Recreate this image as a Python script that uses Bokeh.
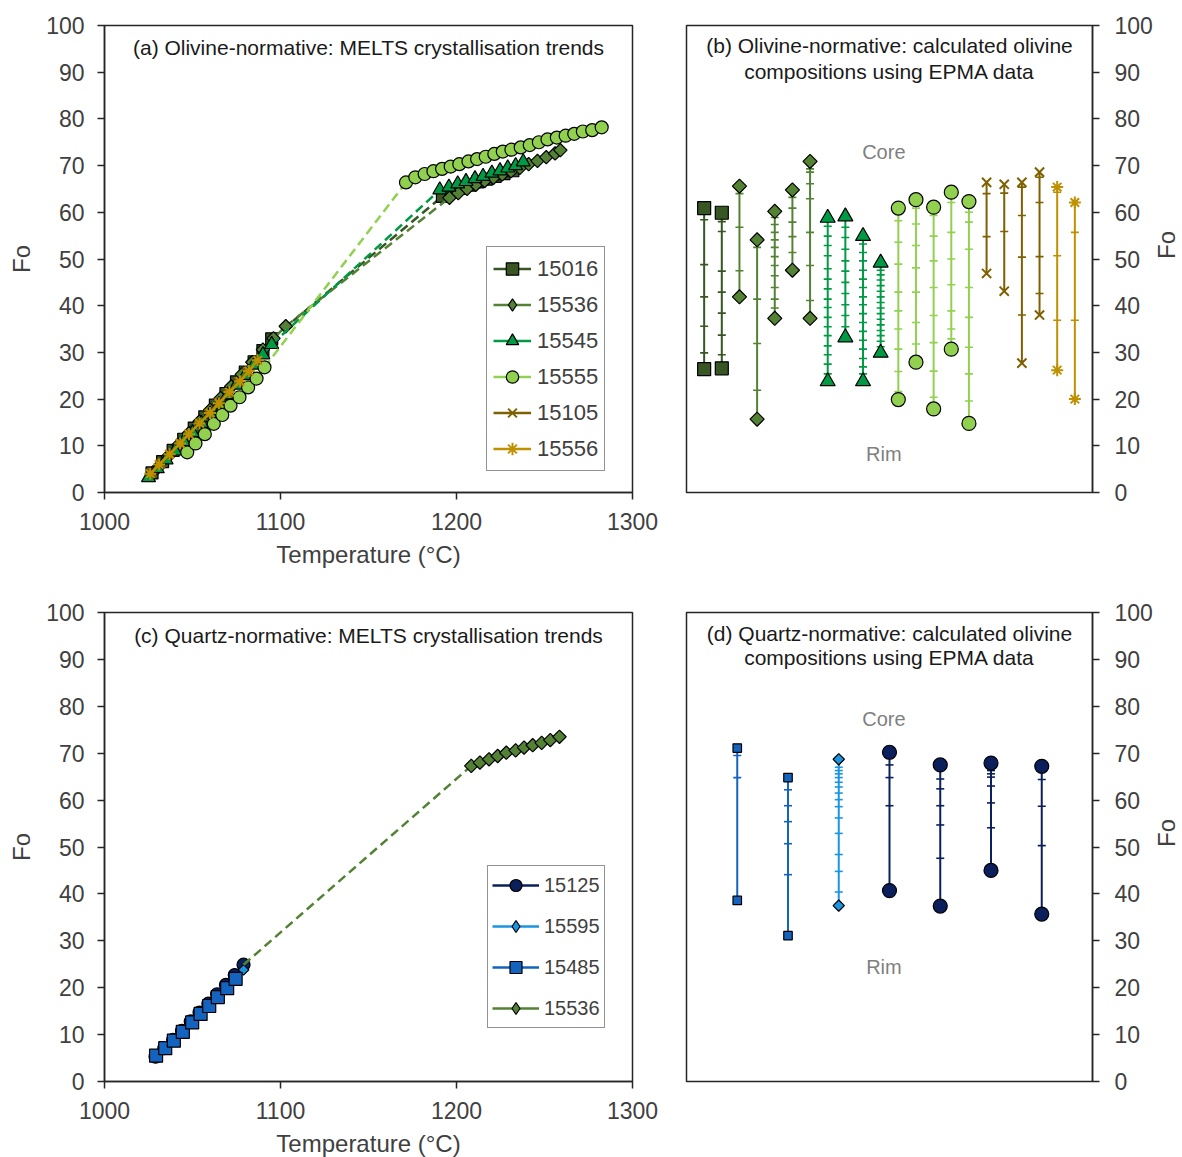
import math
from bokeh.plotting import figure
from bokeh.models import Range1d, FixedTicker, Label, Legend, LegendItem
from bokeh.layouts import column, row
from bokeh.embed import file_html
from bokeh.resources import INLINE

FONT = "Liberation Sans"
AXC = "#262626"
TXT = "#404040"

# ---------------- data: panel (a) olivine-normative MELTS trends ----------------
a15016_lo_T = [1027, 1033, 1039, 1045, 1051, 1057, 1063, 1069, 1075, 1080, 1085, 1090, 1095]
a15016_lo_Fo = [4.2, 6.6, 9.0, 11.4, 13.8, 16.2, 18.7, 21.2, 23.7, 25.8, 28.0, 30.4, 32.9]
a15016_hi_T = [1192, 1197, 1202, 1207, 1212, 1217, 1222, 1227, 1232]
a15016_hi_Fo = [63.4, 64.3, 65.1, 65.8, 66.5, 67.1, 67.7, 68.3, 68.9]

a15536_lo_T = [1030, 1036, 1042, 1048, 1054, 1060, 1066, 1072, 1078, 1084, 1090, 1096, 1103]
a15536_lo_Fo = [5.2, 7.7, 10.2, 12.7, 15.2, 17.7, 20.2, 22.7, 25.3, 27.9, 30.6, 33.0, 35.6]
a15536_hi_T = [1196, 1201, 1206, 1211, 1216, 1221, 1226, 1231, 1236, 1241, 1246, 1251, 1256, 1259]
a15536_hi_Fo = [63.1, 64.1, 65.0, 65.9, 66.7, 67.4, 68.1, 68.8, 69.5, 70.3, 71.0, 71.8, 72.6, 73.3]

a15545_lo_T = [1025, 1030, 1035, 1040, 1045, 1050, 1055, 1060, 1065, 1070, 1075, 1080, 1085, 1090, 1095]
a15545_lo_Fo = [3.2, 5.1, 7.0, 8.9, 10.9, 12.8, 14.8, 16.8, 18.8, 20.9, 23.0, 25.1, 27.3, 29.5, 31.7]
a15545_hi_T = [1190.5, 1195.7, 1200.7, 1205.4, 1210.5, 1215.1, 1220.1, 1224.7, 1229.1, 1233.6, 1237.9]
a15545_hi_Fo = [64.8, 65.4, 66.1, 66.6, 67.2, 67.7, 68.4, 68.9, 69.5, 70.0, 70.8]

a15555_lo_T = [1047.0, 1051.7, 1057.0, 1062.1, 1066.9, 1071.6, 1076.7, 1081.6, 1086.4, 1090.9]
a15555_lo_Fo = [8.6, 10.5, 12.5, 14.7, 16.6, 18.6, 20.4, 22.5, 24.4, 26.8]
a15555_hi_T = [1171.3, 1176.6, 1181.9, 1186.9, 1191.8, 1196.7, 1201.6, 1206.8, 1211.7, 1216.6, 1221.5, 1226.3,
               1231.2, 1236.5, 1241.6, 1246.8, 1251.7, 1257.0, 1262.0, 1266.9, 1271.8, 1277.1, 1282.5]
a15555_hi_Fo = [66.4, 67.5, 68.2, 68.8, 69.3, 69.8, 70.3, 70.9, 71.4, 71.9, 72.5, 73.0,
                73.4, 73.9, 74.4, 75.0, 75.6, 76.0, 76.4, 76.8, 77.3, 77.6, 78.2]

a15105_T = [1027, 1032, 1037, 1043, 1048, 1054, 1059, 1065, 1070, 1076, 1081]
a15105_Fo = [4.3, 6.2, 8.2, 10.6, 12.6, 14.9, 16.9, 19.3, 21.3, 23.7, 25.8]
a15556_T = [1026, 1031, 1037, 1043, 1048, 1054, 1060, 1065, 1071, 1077, 1082, 1087]
a15556_Fo = [4.0, 6.0, 8.2, 10.5, 12.5, 14.8, 17.0, 19.1, 21.5, 23.8, 26.0, 28.3]

# ---------------- data: panel (c) quartz-normative MELTS trends ----------------
c15125_T = [1029, 1034, 1039, 1044, 1049, 1054, 1059, 1064, 1069, 1074, 1079]
c15125_Fo = [5.3, 7.1, 8.9, 10.8, 12.8, 14.7, 16.6, 18.6, 20.6, 22.7, 24.9]
c15595_T = [1030, 1035, 1040, 1045, 1050, 1055, 1060, 1065, 1070, 1075, 1079]
c15595_Fo = [5.6, 7.3, 9.0, 10.9, 12.8, 14.6, 16.4, 18.3, 20.2, 22.1, 23.8]
c15485_T = [1029.3, 1034.5, 1039.4, 1044.5, 1049.8, 1054.6, 1059.5, 1064.4, 1069.7, 1074.5]
c15485_Fo = [5.5, 7.1, 8.7, 10.6, 12.6, 14.4, 16.1, 18.0, 19.9, 21.9]
c15536_lo_T = [1079]
c15536_lo_Fo = [24.9]
c15536_hi_T = [1208.4, 1213.3, 1218.5, 1223.4, 1228.3, 1233.6, 1238.4, 1243.3, 1248.4, 1253.3, 1258.5]
c15536_hi_Fo = [67.3, 68.0, 68.7, 69.4, 70.1, 70.6, 71.2, 71.7, 72.2, 72.8, 73.5]

# ---------------- data: panel (b) olivine-normative EPMA profiles ----------------
b_series = ["15016", "15536", "15545", "15555", "15105", "15556"]
b_counts = [2, 5, 4, 5, 4, 2]
b_core = [60.9, 59.9, 65.6, 54.1, 60.2, 64.8, 70.9, 58.8, 59.1, 54.9, 49.2,
          60.9, 62.7, 61.1, 64.3, 62.3, 66.4, 66.0, 66.4, 68.6, 65.4, 62.1]
b_rim = [26.4, 26.6, 41.9, 15.7, 37.3, 47.6, 37.3, 23.8, 33.2, 23.8, 29.9,
         19.9, 27.9, 17.9, 30.7, 14.8, 46.9, 43.1, 27.7, 38.0, 26.2, 20.0]
b_inner = [
    [58.4, 48.8, 41.9, 35.6, 29.9],
    [58.0, 55.9, 47.4, 42.9, 38.4, 33.7, 29.5],
    [64.0, 56.8, 47.5],
    [52.5, 41.4, 31.9, 21.9],
    [58.9, 57.4, 55.7, 54.1, 52.5, 50.5, 48.6, 46.4, 43.9, 41.4, 39.5],
    [63.2, 60.9, 57.9, 54.8, 51.4],
    [69.3, 68.6, 66.1, 62.9, 55.7, 48.6, 41.1],
    [57.0, 54.9, 52.9, 50.7, 47.9, 45.7, 43.6, 41.4, 39.6, 37.5, 35.5, 33.6, 31.4, 29.5, 27.5, 25.4],
    [56.8, 54.6, 52.1, 49.6, 47.4, 45.0, 42.6, 40.2, 37.9, 35.5],
    [53.2, 51.4, 49.6, 47.6, 45.7, 43.9, 41.9, 40.2, 38.3, 36.4, 34.5, 32.6, 30.7, 28.7, 26.9, 25.4],
    [47.6, 46.6, 45.5, 44.3, 43.1, 41.9, 40.7, 39.5, 38.3, 37.1, 35.9, 34.7, 33.6, 32.4, 31.2],
    [58.2, 53.6, 48.9, 42.9, 38.9, 35.0, 30.7, 25.9, 21.6],
    [60.9, 57.5, 52.9, 48.1, 42.9, 36.4, 31.8],
    [59.3, 54.9, 49.6, 43.9, 37.9, 32.1, 26.0, 20.4],
    [62.1, 55.7, 50.0, 44.5, 38.9, 35.0, 32.9],
    [60.0, 57.9, 52.1, 43.9, 37.5, 31.1, 25.4, 19.6],
    [64.0, 54.8],
    [64.1, 55.9],
    [65.4, 59.3, 50.4, 38.0],
    [67.5, 62.1, 50.5, 42.6],
    [64.3, 50.7, 36.9],
    [55.7, 36.9],
]

# ---------------- data: panel (d) quartz-normative EPMA profiles ----------------
d_series = ["15485", "15595", "15125"]
d_counts = [2, 1, 4]
d_core = [71.1, 64.8, 68.7, 70.2, 67.5, 67.9, 67.2]
d_rim = [38.6, 31.1, 37.5, 40.7, 37.4, 45.0, 35.7]
d_inner = [
    [69.5, 64.8],
    [62.2, 58.8, 55.4, 50.7, 44.1],
    [67.0, 66.3, 65.6, 64.8, 63.8, 62.8, 61.5, 60.1, 58.6, 56.2, 52.9, 48.4, 44.8, 40.4],
    [67.5, 64.8, 58.8],
    [64.5, 62.4, 58.8, 54.7, 47.6],
    [66.3, 65.6, 64.9, 63.0, 59.4, 54.1],
    [64.4, 58.7, 50.3],
]

x_ticks = [1000, 1100, 1200, 1300]
y_ticks = [0, 10, 20, 30, 40, 50, 60, 70, 80, 90, 100]

# ---------------- styles ----------------
COL = {
    "15016": "#375623", "15536": "#548235", "15545": "#009A44", "15555": "#92D050",
    "15105": "#7F6000", "15556": "#BF9000",
    "15125": "#0B1F5C", "15595": "#1B95E0", "15485": "#1463BE",
}
MK = {
    "15016": dict(marker="square", size=12, angle=0.0, legend="square"),
    "15536": dict(marker="square", size=9.5, angle=math.pi / 4, legend="diamond"),
    "15545": dict(marker="triangle", size=14, angle=0.0, legend="triangle"),
    "15555": dict(marker="circle", size=13, angle=0.0, legend="circle"),
    "15105": dict(marker="x", size=12, angle=0.0, legend="x"),
    "15556": dict(marker="asterisk", size=12, angle=0.0, legend="asterisk"),
    "15125": dict(marker="circle", size=13, angle=0.0, legend="circle"),
    "15595": dict(marker="square", size=7.5, angle=math.pi / 4, legend="diamond"),
    "15485": dict(marker="square", size=13, angle=0.0, legend="square"),
}
LINE_ONLY = {"15105", "15556"}


def style_kw(name):
    if name in LINE_ONLY:
        return dict(line_color=COL[name], line_width=2)
    return dict(fill_color=COL[name], line_color="black", line_width=1.2)


def marker_kw(name, size=None):
    m = MK[name]
    kw = dict(marker=m["marker"], size=size if size else m["size"], angle=m["angle"])
    kw.update(style_kw(name))
    return kw


def base_fig(xr, yr, fw, fh, bl, br, bt, bb, yside="left", show_x=True):
    p = figure(frame_width=fw, frame_height=fh, x_range=xr, y_range=yr,
               output_backend="svg", toolbar_location=None, y_axis_location=yside,
               min_border_left=bl, min_border_right=br, min_border_top=bt, min_border_bottom=bb)
    p.xgrid.visible = False
    p.ygrid.visible = False
    p.outline_line_color = AXC
    p.outline_line_width = 1.5
    p.background_fill_color = "white"
    p.border_fill_color = "white"
    for ax in p.axis:
        ax.axis_line_color = AXC
        ax.axis_line_width = 1.5
        ax.major_tick_line_color = AXC
        ax.major_tick_line_width = 1.5
        ax.major_tick_out = 7
        ax.major_tick_in = 0
        ax.minor_tick_out = 0
        ax.minor_tick_in = 0
        ax.major_label_text_font = FONT
        ax.major_label_text_font_size = "23px"
        ax.major_label_text_color = TXT
        ax.axis_label_text_font = FONT
        ax.axis_label_text_font_size = "24px"
        ax.axis_label_text_color = TXT
        ax.axis_label_text_font_style = "normal"
    p.yaxis.ticker = FixedTicker(ticks=y_ticks)
    p.yaxis.axis_label = "Fo"
    if yside == "right":
        p.yaxis.major_label_standoff = 15
        p.yaxis.axis_label_standoff = 11
        for ax in p.yaxis:
            try:
                ax.axis_label_orientation = math.pi / 2
            except AttributeError:
                pass
    else:
        p.yaxis.major_label_standoff = 13
        p.yaxis.axis_label_standoff = 8
    if show_x:
        p.xaxis.ticker = FixedTicker(ticks=x_ticks)
        p.xaxis.axis_label = "Temperature (°C)"
        p.xaxis.major_label_standoff = 13
        p.xaxis.axis_label_standoff = 8
    else:
        p.xaxis.visible = False
    return p


def add_text(p, x, y, text, size="21px", color="#1A1A1A"):
    p.add_layout(Label(x=x, y=y, text=text, text_align="center", text_baseline="middle",
                       text_font=FONT, text_font_size=size, text_color=color))


def trend_series(p, name, lo_T, lo_Fo, hi_T=None, hi_Fo=None, lo_markers=True):
    c = COL[name]
    rs = []
    if len(lo_T) > 1:
        rs.append(p.line(lo_T, lo_Fo, line_color=c, line_width=2.5))
    if hi_T:
        p.line([lo_T[-1], hi_T[0]], [lo_Fo[-1], hi_Fo[0]], line_color=c, line_width=2.5,
               line_dash="9 5")
        r = p.line(hi_T, hi_Fo, line_color=c, line_width=2.5)
        if not rs:
            rs.append(r)
    xs = (list(lo_T) if lo_markers else []) + (list(hi_T) if hi_T else [])
    ys = (list(lo_Fo) if lo_markers else []) + (list(hi_Fo) if hi_Fo else [])
    p.scatter(xs, ys, **marker_kw(name))
    # legend-only glyph (never drawn in the plot area)
    rs.append(p.scatter([float("nan")], [float("nan")], marker=MK[name]["legend"], size=10,
                        **style_kw(name)))
    return LegendItem(label=name, renderers=rs)


def make_legend(items, loc, font_size, glyph_w, item_h, spacing, padding, standoff):
    return Legend(items=items, location=loc, border_line_color=AXC, border_line_width=1.5,
                  background_fill_color="white", background_fill_alpha=1.0,
                  label_text_font=FONT, label_text_font_size=font_size, label_text_color=TXT,
                  glyph_width=glyph_w, glyph_height=item_h, label_height=item_h,
                  spacing=spacing, padding=padding, margin=0, label_standoff=standoff)


def interval_panel(p, series, counts, core, rim, inner, big_sizes):
    col_series = []
    for s, n in zip(series, counts):
        col_series += [s] * n
    xs = list(range(1, len(core) + 1))
    p.segment(x0=xs, y0=rim, x1=xs, y1=core, line_color=[COL[s] for s in col_series], line_width=2)
    dx, dy, dc = [], [], []
    for x, s, vals in zip(xs, col_series, inner):
        for v in vals:
            dx.append(x)
            dy.append(v)
            dc.append(COL[s])
    p.scatter(dx, dy, marker="dash", size=8, line_color=dc, line_width=1.6)
    for s in series:
        idx = [i for i, cs in enumerate(col_series) if cs == s]
        ex = [xs[i] for i in idx] * 2
        ey = [core[i] for i in idx] + [rim[i] for i in idx]
        p.scatter(ex, ey, **marker_kw(s, big_sizes.get(s)))


# ---------------- panel (a) ----------------
pa = base_fig(Range1d(1000, 1300), Range1d(0, 100), 528, 467, 104, 44, 25, 108)
items_a = [
    trend_series(pa, "15016", a15016_lo_T, a15016_lo_Fo, a15016_hi_T, a15016_hi_Fo),
    trend_series(pa, "15536", a15536_lo_T, a15536_lo_Fo, a15536_hi_T, a15536_hi_Fo),
    trend_series(pa, "15545", a15545_lo_T, a15545_lo_Fo, a15545_hi_T, a15545_hi_Fo),
    trend_series(pa, "15555", a15555_lo_T, a15555_lo_Fo, a15555_hi_T, a15555_hi_Fo),
    trend_series(pa, "15105", a15105_T, a15105_Fo),
    trend_series(pa, "15556", a15556_T, a15556_Fo),
]
pa.add_layout(make_legend(items_a, (382, 21), "22px", 38, 31, 5, 6, 6))
add_text(pa, 1150, 95.3, "(a) Olivine-normative: MELTS crystallisation trends")

# ---------------- panel (b) ----------------
pb = base_fig(Range1d(0, 23), Range1d(0, 100), 406, 467, 10, 90, 25, 108, yside="right", show_x=False)
interval_panel(pb, b_series, b_counts, b_core, b_rim, b_inner,
               {"15016": 13, "15536": 10, "15545": 15, "15555": 14, "15105": 13, "15556": 12})
add_text(pb, 11.5, 95.7, "(b) Olivine-normative: calculated olivine")
add_text(pb, 11.5, 90.1, "compositions using EPMA data")
add_text(pb, 11.18, 73.0, "Core", size="20px", color="#7F7F7F")
add_text(pb, 11.18, 8.2, "Rim", size="20px", color="#7F7F7F")

# ---------------- panel (c) ----------------
pc = base_fig(Range1d(1000, 1300), Range1d(0, 100), 528, 469, 104, 44, 12, 76)
items_c = [
    trend_series(pc, "15125", c15125_T, c15125_Fo),
    trend_series(pc, "15595", c15595_T, c15595_Fo),
    trend_series(pc, "15485", c15485_T, c15485_Fo),
    trend_series(pc, "15536", c15536_lo_T, c15536_lo_Fo, c15536_hi_T, c15536_hi_Fo, lo_markers=False),
]
pc.add_layout(make_legend(items_c, (383, 53), "20px", 47, 30, 11, 4, 5))
add_text(pc, 1150, 95.2, "(c) Quartz-normative: MELTS crystallisation trends")

# ---------------- panel (d) ----------------
pd_ = base_fig(Range1d(0, 8), Range1d(0, 100), 406, 469, 10, 90, 12, 76, yside="right", show_x=False)
interval_panel(pd_, d_series, d_counts, d_core, d_rim, d_inner,
               {"15485": 8.5, "15595": 8, "15125": 14})
add_text(pd_, 4.0, 95.5, "(d) Quartz-normative: calculated olivine")
add_text(pd_, 4.0, 90.3, "compositions using EPMA data")
add_text(pd_, 3.89, 77.3, "Core", size="20px", color="#7F7F7F")
add_text(pd_, 3.89, 24.5, "Rim", size="20px", color="#7F7F7F")

layout = column(row(pa, pb), row(pc, pd_))
open("out.html", "w").write(file_html(layout, INLINE))
